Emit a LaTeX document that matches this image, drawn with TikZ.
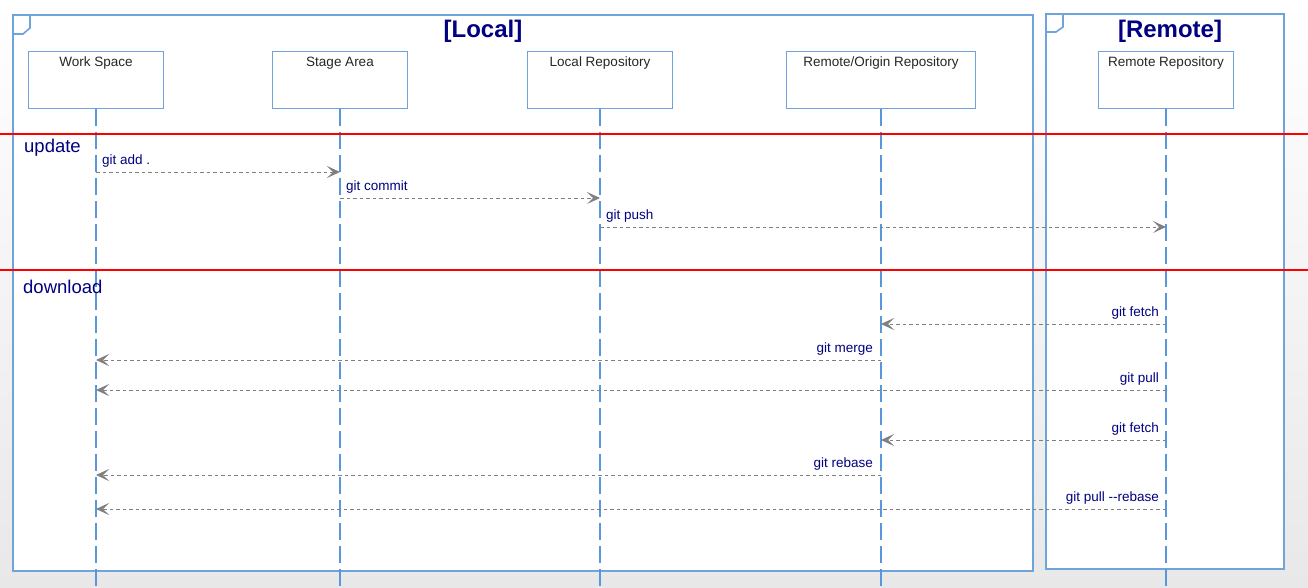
\documentclass[tikz,border=0pt]{standalone}
\usepackage{fontspec}
\setmainfont{Liberation Sans}
\usetikzlibrary{arrows.meta}
\definecolor{frameblue}{RGB}{111,163,220}
\definecolor{lifeblue}{RGB}{90,150,220}
\definecolor{navytxt}{RGB}{0,0,128}
\definecolor{msggray}{RGB}{128,128,128}
\begin{document}
\begin{tikzpicture}[x=1pt,y=-1pt,
  framebox/.style={draw=frameblue,line width=2pt,fill=white},
  lifebox/.style={draw=frameblue,line width=1pt,fill=white,minimum height=57pt,inner sep=0pt,anchor=north west},
  boxtxt/.style={font=\fontsize{13.5}{15}\selectfont,text=black!85,anchor=north,inner sep=0pt},
  life/.style={draw=lifeblue,line width=1.2pt,dash pattern=on 17pt off 6pt},
  sep/.style={draw=red,line width=1.6pt},
  msg/.style={draw=msggray,line width=1pt,dash pattern=on 3.5pt off 3pt,-{Stealth[length=13pt,width=12pt,inset=6pt,fill=msggray]}},
  lbl/.style={font=\fontsize{13.5}{15}\selectfont,text=navytxt,inner sep=0pt},
  title/.style={font=\fontsize{24}{28}\selectfont\bfseries,text=navytxt},
  sect/.style={font=\fontsize{18.5}{21}\selectfont,text=navytxt,anchor=west,inner sep=0pt}]
\useasboundingbox (0,0) rectangle (1308,587);
\shade[top color=white,bottom color=black!9] (0,0) rectangle (1308,587);
% frames
\draw[framebox] (13,15) rectangle (1033,571);
\draw[draw=frameblue,line width=1.6pt] (30,15) -- (30,28) -- (23,34) -- (13,34);
\draw[framebox] (1046,14) rectangle (1284,569);
\draw[draw=frameblue,line width=1.6pt] (1063,14) -- (1063,27) -- (1056,32) -- (1046,32);
\node[title] (tl) at (483,31) {[Local]};
\node[title] (tr) at (1170,31) {[Remote]};
% lifeline boxes
\node[lifebox,minimum width=135pt] (ws) at (28,51) {};
\node[boxtxt] at ([yshift=-5.5pt]ws.north) {Work Space};
\node[lifebox,minimum width=135pt] (sa) at (272,51) {};
\node[boxtxt] at ([yshift=-5.5pt]sa.north) {Stage Area};
\node[lifebox,minimum width=145pt] (lr) at (527,51) {};
\node[boxtxt] at ([yshift=-5.5pt]lr.north) {Local Repository};
\node[lifebox,minimum width=189pt] (ro) at (786,51) {};
\node[boxtxt] at ([yshift=-5.5pt]ro.north) {Remote/Origin Repository};
\node[lifebox,minimum width=135pt] (rr) at (1098,51) {};
\node[boxtxt] at ([yshift=-5.5pt]rr.north) {Remote Repository};
% lifelines
\foreach \n in {ws,sa,lr,ro,rr}{
  \draw[life] (\n.south) -- (\n.south |- 0,587);
}
% separators
\coordinate (s1a) at (0,134); \coordinate (s1b) at (1308,134);
\coordinate (s2a) at (0,270); \coordinate (s2b) at (1308,270);
\draw[sep] (s1a) -- (s1b);
\draw[sep] (s2a) -- (s2b);
\node[sect] (up) at (24,148) {update};
\node[sect] (dl) at (23,287) {download};
% messages (rightward)
\draw[msg] (ws.south |- 0,172) -- (sa.south |- 0,172);
\node[lbl,anchor=base west] at ([xshift=6pt,yshift=8pt]ws.south |- 0,172) {git add .};
\draw[msg] (sa.south |- 0,198) -- (lr.south |- 0,198);
\node[lbl,anchor=base west] at ([xshift=6pt,yshift=8pt]sa.south |- 0,198) {git commit};
\draw[msg] (lr.south |- 0,227) -- (rr.south |- 0,227);
\node[lbl,anchor=base west] at ([xshift=6pt,yshift=8pt]lr.south |- 0,227) {git push};
% messages (leftward)
\draw[msg] (rr.south |- 0,324) -- (ro.south |- 0,324);
\node[lbl,anchor=base east] at ([xshift=-7pt,yshift=8pt]rr.south |- 0,324) {git fetch};
\draw[msg] (ro.south |- 0,360) -- (ws.south |- 0,360);
\node[lbl,anchor=base east] at ([xshift=-8pt,yshift=8pt]ro.south |- 0,360) {git merge};
\draw[msg] (rr.south |- 0,390) -- (ws.south |- 0,390);
\node[lbl,anchor=base east] at ([xshift=-7pt,yshift=8pt]rr.south |- 0,390) {git pull};
\draw[msg] (rr.south |- 0,440) -- (ro.south |- 0,440);
\node[lbl,anchor=base east] at ([xshift=-7pt,yshift=8pt]rr.south |- 0,440) {git fetch};
\draw[msg] (ro.south |- 0,475) -- (ws.south |- 0,475);
\node[lbl,anchor=base east] at ([xshift=-8pt,yshift=8pt]ro.south |- 0,475) {git rebase};
\draw[msg] (rr.south |- 0,509) -- (ws.south |- 0,509);
\node[lbl,anchor=base east] at ([xshift=-7pt,yshift=8pt]rr.south |- 0,509) {git pull -{}-rebase};
\end{tikzpicture}
\end{document}
